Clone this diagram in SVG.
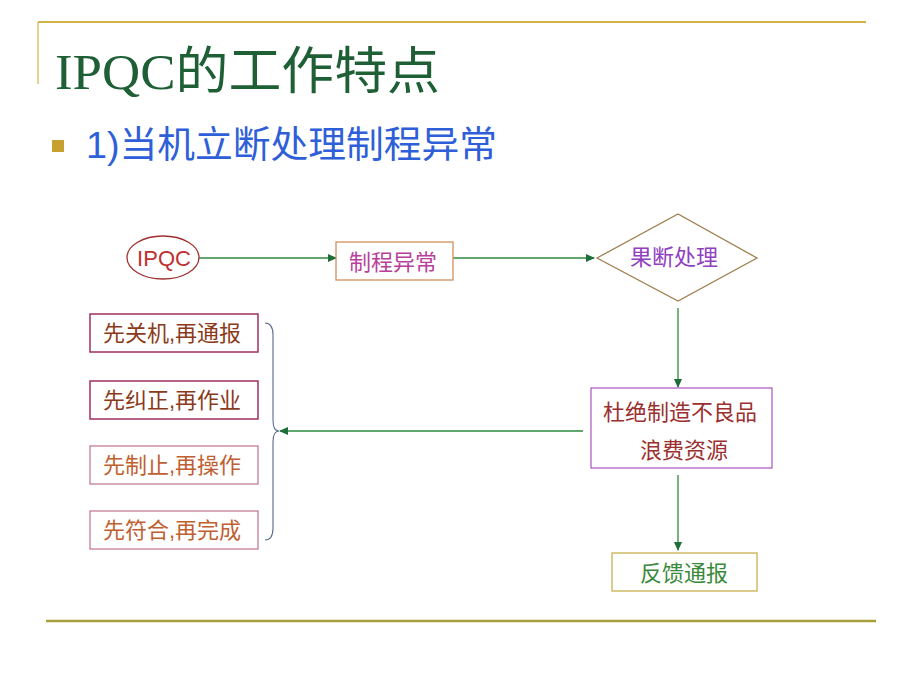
<svg xmlns="http://www.w3.org/2000/svg" width="920" height="690" viewBox="0 0 920 690">
<style>
.cjk{font-family:"Liberation Sans","Noto Sans CJK SC",sans-serif;}
.lbl{font-size:22px;text-anchor:middle;dominant-baseline:central;}
.conn{stroke:#2E8B3E;stroke-width:1.3;fill:none;marker-end:url(#ah);}
</style>
<defs>
<marker id="ah" markerWidth="9" markerHeight="8" refX="8" refY="4" orient="auto" markerUnits="userSpaceOnUse">
<path d="M0,0 L9,4 L0,8 Z" fill="#1E6E3A"/>
</marker>
</defs>
<rect width="920" height="690" fill="#FFFFFF"/>
<g id="frame">
<line x1="38" y1="22" x2="866" y2="22" stroke="#D0B448" stroke-width="2"/>
<line x1="38" y1="22" x2="38" y2="84" stroke="#D0B448" stroke-width="1.2"/>
<line x1="46" y1="621" x2="876" y2="621" stroke="#A89E3C" stroke-width="2.5"/>
</g>
<g id="title">
<text x="55" y="89" font-family="Liberation Serif,'Noto Sans CJK SC',serif" font-size="51" textLength="385" lengthAdjust="spacingAndGlyphs" fill="#1F5F35">IPQC的工作特点</text>
</g>
<g id="bullet">
<rect x="52" y="140" width="12" height="12" fill="#C8A030"/>
<text x="86" y="158" class="cjk" font-size="37" textLength="411" lengthAdjust="spacingAndGlyphs" fill="#2F5FD8">1)当机立断处理制程异常</text>
</g>
<g id="connectors">
<line x1="199" y1="258" x2="336" y2="258" class="conn"/>
<line x1="453" y1="258" x2="594" y2="258" class="conn" stroke="#4E7E72"/>
<line x1="678" y1="308" x2="678" y2="387" class="conn"/>
<line x1="583" y1="431" x2="280" y2="431" class="conn"/>
<line x1="678" y1="475" x2="678" y2="550" class="conn"/>
<path d="M265,323 Q273,323 273,335 L273,420 Q273,431 279,431 Q273,431 273,442 L273,528 Q273,540 265,540" stroke="#5A6A8A" stroke-width="1.1" fill="none"/>
</g>
<g id="n-ipqc">
<ellipse cx="163" cy="257.5" rx="36" ry="21.5" fill="#FFFFFF" stroke="#A03030" stroke-width="1.3"/>
<text x="164" y="258" class="lbl" font-family="Liberation Sans,sans-serif" font-size="21" fill="#C03030">IPQC</text>
</g>
<g id="n-abnormal">
<rect x="336" y="242" width="117" height="38" fill="#FFFFFF" stroke="#D09060" stroke-width="1.3"/>
<text x="393" y="262" class="cjk lbl" fill="#B8409A">制程异常</text>
</g>
<g id="n-decide">
<polygon points="597,258 678,214 757,258 678,301" fill="#FFFFFF" stroke="#A08050" stroke-width="1.3"/>
<text x="674" y="257" class="cjk lbl" fill="#9040C0">果断处理</text>
</g>
<g id="n-prevent">
<rect x="591" y="388" width="181" height="80" fill="#FFFFFF" stroke="#B060C0" stroke-width="1.3"/>
<text x="680" y="412" class="cjk lbl" fill="#9B3030">杜绝制造不良品</text>
<text x="684" y="450" class="cjk lbl" fill="#9B3030">浪费资源</text>
</g>
<g id="n-feedback">
<rect x="612" y="553" width="145" height="38" fill="#FFFFFF" stroke="#C8B050" stroke-width="1.3"/>
<text x="684" y="573" class="cjk lbl" fill="#3A8A3A">反馈通报</text>
</g>
<g id="n-a1">
<rect x="90" y="314" width="168" height="38" fill="#FFFFFF" stroke="#A03060" stroke-width="1.5"/>
<text x="172" y="333" class="cjk lbl" fill="#8B3A1A">先关机,再通报</text>
</g>
<g id="n-a2">
<rect x="90" y="381" width="168" height="38" fill="#FFFFFF" stroke="#A03060" stroke-width="1.5"/>
<text x="172" y="400" class="cjk lbl" fill="#8B3A1A">先纠正,再作业</text>
</g>
<g id="n-a3">
<rect x="90" y="446" width="168" height="38" fill="#FFFFFF" stroke="#C07090" stroke-width="1.2"/>
<text x="172" y="465" class="cjk lbl" fill="#C06030">先制止,再操作</text>
</g>
<g id="n-a4">
<rect x="90" y="511" width="168" height="38" fill="#FFFFFF" stroke="#C07090" stroke-width="1.2"/>
<text x="172" y="530" class="cjk lbl" fill="#C06030">先符合,再完成</text>
</g>
</svg>
